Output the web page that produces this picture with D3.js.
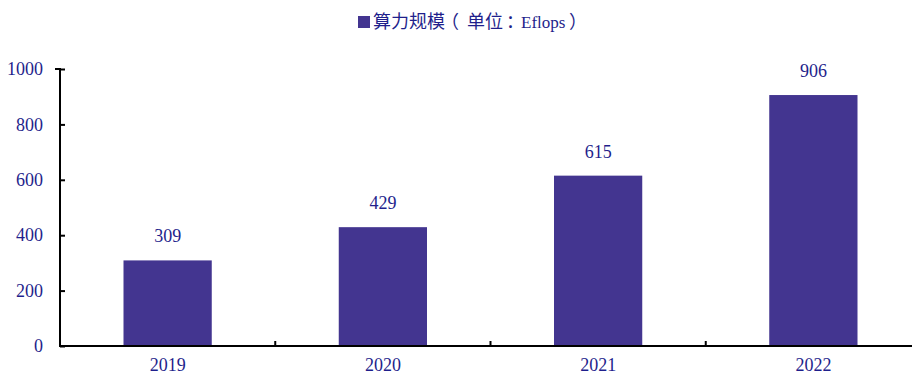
<!DOCTYPE html>
<html><head><meta charset="utf-8">
<script src="https://cdn.jsdelivr.net/npm/d3@7"></script>
<style>
html,body{margin:0;padding:0;background:#fff;}
svg{display:block;}
</style></head>
<body>
<svg id="chart" width="912" height="376"></svg>
<script>
const categories = ["2019", "2020", "2021", "2022"];
const values = [309, 429, 615, 906];
const yTicks = [0, 200, 400, 600, 800, 1000];
const legendParts = ["算力规模", "（", "单位", "：", "Eflops", "）"];

const svg = d3.select("#chart");
const barColor = "#433590";
const textColor = "#1f1f8c";
const serif = "'Liberation Serif','Times New Roman',serif";
const cjk = "'Noto Sans CJK SC',sans-serif";

const x = d3.scaleBand().domain(categories).range([60, 921]).paddingInner(0.59).paddingOuter(0.295);
const y = d3.scaleLinear().domain([0, 1000]).range([346, 69]);

// bars
svg.selectAll("rect.bar").data(values).enter().append("rect")
  .attr("class", "bar")
  .attr("x", (d, i) => x(categories[i]))
  .attr("width", x.bandwidth())
  .attr("y", d => y(d))
  .attr("height", d => y(0) - y(d))
  .attr("fill", barColor);

// value labels
svg.selectAll("text.val").data(values).enter().append("text")
  .attr("class", "val")
  .attr("x", (d, i) => x(categories[i]) + x.bandwidth() / 2)
  .attr("y", d => y(d) - 18)
  .attr("text-anchor", "middle")
  .attr("fill", textColor)
  .style("font-family", serif)
  .style("font-size", "18px")
  .text(d => d);

// y axis
const yAxis = d3.axisLeft(y).tickValues(yTicks).tickSize(-5).tickPadding(17).tickFormat(d3.format("d"));
const yg = svg.append("g").attr("transform", "translate(60,0)").call(yAxis);
yg.select(".domain").attr("stroke", "#000").attr("stroke-width", 2).attr("d", `M-5,${y(1000)}H0V${y(0)}`);
yg.selectAll(".tick line").attr("stroke", "#000").attr("stroke-width", 2);
yg.selectAll(".tick text").attr("fill", textColor).style("font-family", serif).style("font-size", "18px");

// x axis
const xAxis = d3.axisBottom(x).tickSize(0).tickPadding(12);
const xg = svg.append("g").attr("transform", `translate(0,${y(0)})`).call(xAxis);
xg.select(".domain").attr("stroke", "#000").attr("stroke-width", 2).attr("d", `M59,0H921`);
xg.selectAll(".tick text").attr("fill", textColor).style("font-family", serif).style("font-size", "18px").attr("dy", "0.71em");

// category separator ticks (pointing up)
const bounds = categories.slice(1).map(c => x(c) - x.step() * x.paddingInner() / 2);
svg.selectAll("line.sep").data(bounds).enter().append("line")
  .attr("class", "sep")
  .attr("x1", d => d).attr("x2", d => d)
  .attr("y1", y(0)).attr("y2", y(0) - 5)
  .attr("stroke", "#000").attr("stroke-width", 2);

// legend
const lg = svg.append("g").attr("fill", textColor);
lg.append("rect").attr("x", 358).attr("y", 16).attr("width", 12).attr("height", 12).attr("fill", barColor);
const legendLayout = [
  {x: 373, font: cjk, size: 18, halt: false},
  {x: 450, font: cjk, size: 18, halt: true},
  {x: 467, font: cjk, size: 18, halt: false},
  {x: 506, font: cjk, size: 18, halt: true},
  {x: 521, font: serif, size: 17, halt: false},
  {x: 569, font: cjk, size: 18, halt: true}
];
legendParts.forEach((t, i) => {
  const L = legendLayout[i];
  lg.append("text").attr("x", L.x).attr("y", 28)
    .style("font-family", L.font).style("font-size", L.size + "px")
    .style("font-feature-settings", L.halt ? "'halt' 1" : "normal")
    .text(t);
});
</script>
</body></html>
